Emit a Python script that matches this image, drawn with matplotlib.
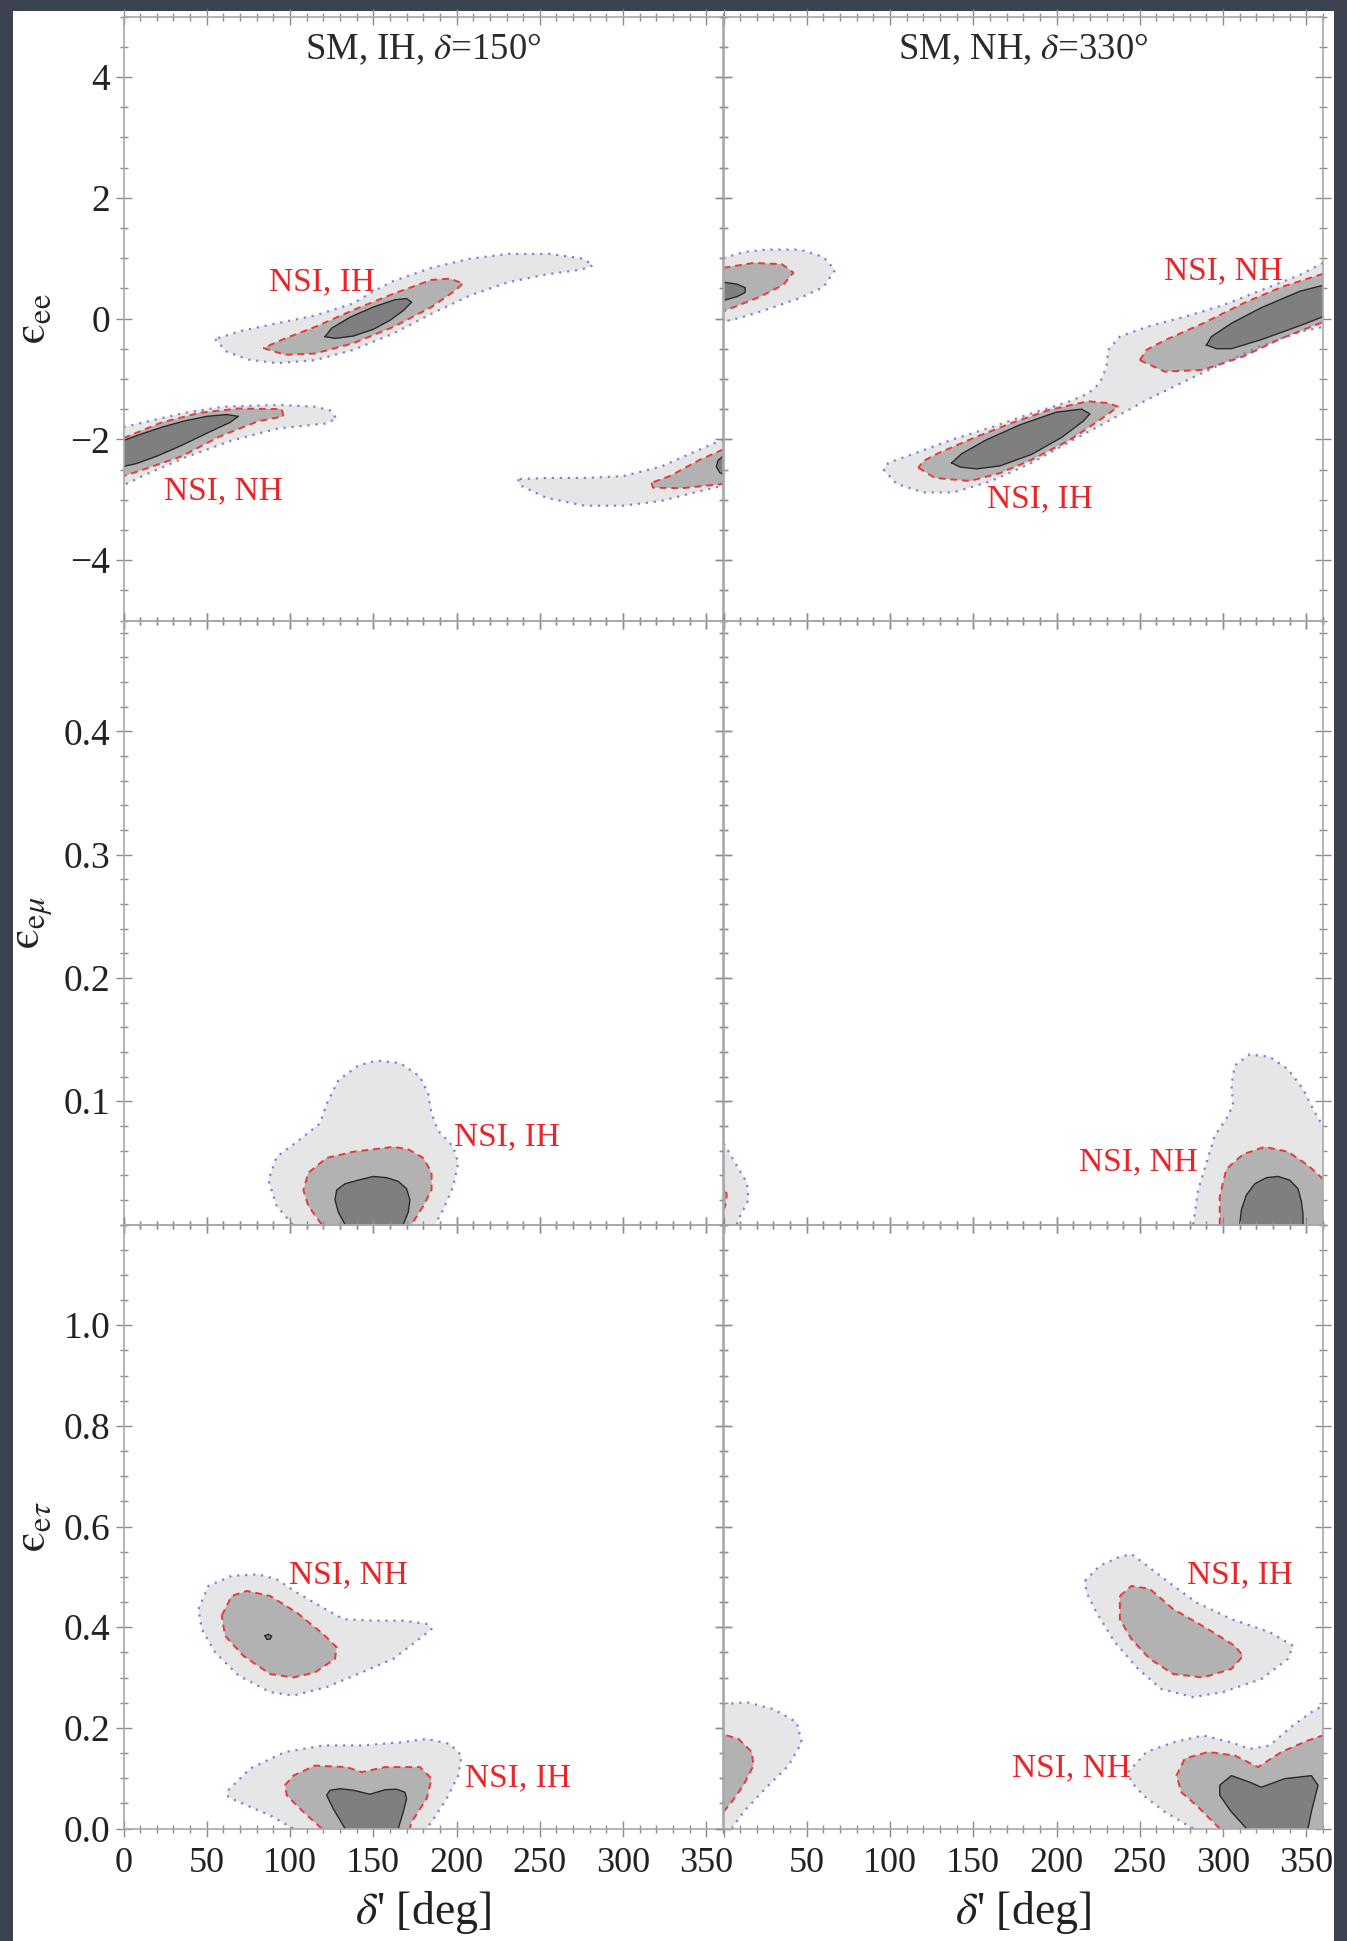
import numpy as np
import matplotlib
matplotlib.use('Agg')
import matplotlib.pyplot as plt
from matplotlib.patches import Rectangle
from matplotlib.ticker import MultipleLocator

plt.rcParams['font.family'] = ['Liberation Serif', 'DejaVu Serif']
plt.rcParams['mathtext.fontset'] = 'stix'

# ---- axes / ticks ----
delta_ticks = [0, 50, 100, 150, 200, 250, 300, 350]
delta_labels_left = ['0', '50', '100', '150', '200', '250', '300', '350']
delta_labels_right = ['', '50', '100', '150', '200', '250', '300', '350']
ee_ticks = [-4, -2, 0, 2, 4]
ee_labels = ['\u22124', '\u22122', '0', '2', '4']
em_ticks = [0.1, 0.2, 0.3, 0.4]
em_labels = ['0.1', '0.2', '0.3', '0.4']
et_ticks = [0.0, 0.2, 0.4, 0.6, 0.8, 1.0]
et_labels = ['0.0', '0.2', '0.4', '0.6', '0.8', '1.0']
ylims = [(-5, 5), (0, 0.49), (0, 1.2)]
yminor = [0.5, 0.02, 0.05]
titles = ['SM, IH, $\\delta$=150\u00b0', 'SM, NH, $\\delta$=330\u00b0']
ylabels = ['$\\mathrm{\u03f5}_{\\mathrm{ee}}$', '$\\mathrm{\u03f5}_{\\mathrm{e}\\mu}$',
           '$\\mathrm{\u03f5}_{\\mathrm{e}\\tau}$']

# ---- contour regions (delta', eps) ----
# top-left: eps_ee, SM IH delta=150
TL_A_OUT = [(55,-0.34),(62,-0.55),(75,-0.68),(92,-0.74),(115,-0.69),(138,-0.52),(162,-0.25),(185,0.08),
            (208,0.38),(231,0.60),(254,0.73),(275,0.81),(282,0.88),(276,0.99),(256,1.07),(231,1.07),
            (208,0.99),(185,0.84),(162,0.62),(150,0.45),(138,0.25),(115,0.05),(92,-0.08),(70,-0.21)]
TL_A_MID = [(84,-0.49),(97,-0.60),(115,-0.58),(138,-0.41),(162,-0.14),(185,0.19),(198,0.44),(204,0.58),
            (196,0.66),(185,0.64),(162,0.41),(138,0.14),(115,-0.14),(97,-0.33)]
TL_A_IN = [(121,-0.30),(127,-0.33),(138,-0.29),(150,-0.18),(160,-0.03),(168,0.13),(173,0.27),(170,0.33),
           (163,0.31),(150,0.19),(136,0.02),(125,-0.16)]
TL_B_OUT = [(0,-1.80),(12,-1.72),(37,-1.56),(60,-1.46),(93,-1.43),(115,-1.46),(124,-1.52),(128,-1.66),
            (121,-1.74),(93,-1.82),(65,-2.02),(37,-2.30),(12,-2.60),(0,-2.76)]
TL_B_MID = [(0,-1.98),(23,-1.72),(46,-1.56),(69,-1.49),(95,-1.50),(96,-1.62),(81,-1.70),(58,-1.95),
            (35,-2.28),(12,-2.50),(0,-2.61)]
TL_B_IN = [(0,-2.02),(12,-1.90),(23,-1.80),(36,-1.70),(50,-1.62),(62,-1.59),(69,-1.62),(64,-1.72),
           (50,-1.90),(35,-2.10),(20,-2.28),(8,-2.40),(0,-2.45)]
TL_C_OUT = [(237,-2.66),(238,-2.76),(254,-2.97),(277,-3.10),(300,-3.10),(323,-3.02),(346,-2.86),(360,-2.77),
            (360,-2.0),(346,-2.17),(323,-2.45),(300,-2.61),(277,-2.64),(254,-2.64)]
TL_C_MID = [(317,-2.72),(318,-2.80),(335,-2.81),(360,-2.74),(360,-2.17),(346,-2.34),(328,-2.61)]
TL_C_IN = [(360,-2.28),(357,-2.35),(356,-2.45),(358,-2.55),(360,-2.58)]

# top-right: eps_ee, SM NH delta=330
TR_A_OUT = [(0,1.00),(12,1.10),(25,1.14),(46,1.14),(60,1.02),(67,0.80),(60,0.52),(46,0.34),(25,0.14),(10,0.01),(0,-0.05)]
TR_A_MID = [(0,0.84),(18,0.92),(35,0.90),(42,0.76),(36,0.56),(22,0.36),(0,0.12)]
TR_A_IN = [(0,0.60),(8,0.57),(13,0.51),(13,0.43),(8,0.36),(0,0.30)]
TR_B_OUT = [(96,-2.50),(104,-2.74),(120,-2.88),(138,-2.88),(160,-2.70),(185,-2.39),(208,-2.04),(231,-1.70),
            (254,-1.35),(277,-1.04),(300,-0.74),(323,-0.45),(346,-0.22),(360,-0.14),(360,0.92),(346,0.72),
            (323,0.47),(300,0.22),(277,0.03),(254,-0.14),(238,-0.30),(231,-0.52),(230,-0.80),(226,-1.07),
            (219,-1.24),(208,-1.37),(185,-1.57),(162,-1.79),(138,-2.0),(115,-2.23),(99,-2.39)]
TR_B_MID_LOW = [(117,-2.47),(127,-2.64),(148,-2.69),(166,-2.56),(185,-2.34),(208,-2.01),(226,-1.68),(237,-1.46),
                (231,-1.40),(219,-1.37),(196,-1.51),(173,-1.73),(150,-1.98),(129,-2.23),(120,-2.36)]
TR_B_IN_LOW = [(137,-2.39),(142,-2.46),(152,-2.49),(166,-2.44),(185,-2.25),(203,-1.97),(216,-1.70),(220,-1.58),
               (215,-1.50),(200,-1.55),(178,-1.76),(157,-2.02),(143,-2.24)]
TR_B_MID_UP = [(250,-0.69),(265,-0.88),(288,-0.85),(312,-0.63),(335,-0.33),(360,-0.06),(360,0.74),(335,0.52),
               (312,0.25),(288,-0.08),(265,-0.36),(254,-0.52)]
TR_B_IN_UP = [(290,-0.44),(296,-0.50),(305,-0.50),(323,-0.35),(346,-0.12),(360,0.03),(360,0.55),(346,0.45),
              (323,0.18),(305,-0.08),(293,-0.30)]

# middle-left: eps_emu, SM IH
ML_OUT = [(101.5,0),(92,0.015),(87,0.036),(92,0.055),(106,0.069),(118,0.082),(122,0.098),(129,0.117),(141,0.129),
          (152,0.133),(166,0.131),(178,0.120),(183,0.106),(185,0.090),(189,0.076),(198,0.063),(201,0.050),
          (198,0.031),(192,0.012),(187,0)]
ML_MID = [(119,0),(111,0.015),(108,0.028),(111,0.042),(122,0.054),(138,0.059),(162,0.063),(171,0.061),(180,0.054),
          (185,0.042),(185,0.028),(180,0.015),(173,0)]
ML_IN = [(133,0),(129,0.010),(127,0.020),(128,0.028),(133,0.033),(141,0.036),(150,0.039),(158,0.038),(165,0.035),
         (170,0.029),(172,0.020),(171,0.010),(168,0)]

# middle-right: eps_emu, SM NH
MR_A_OUT = [(8,0),(10,0.007),(15,0.020),(14,0.034),(7,0.050),(0,0.066),(0,0)]
MR_A_MID = [(0,0.012),(1,0.015),(2,0.024),(0,0.033)]
MR_B_OUT = [(282,0),(285,0.028),(290,0.050),(295,0.072),(302,0.086),(306,0.097),(305,0.113),(307,0.129),(316,0.138),
            (328,0.136),(339,0.126),(348,0.110),(355,0.091),(360,0.080),(360,0)]
MR_B_MID = [(298,0),(298,0.023),(302,0.045),(312,0.057),(325,0.063),(339,0.059),(351,0.048),(360,0.037),(360,0)]
MR_B_IN = [(310,0),(311,0.012),(314,0.024),(319,0.033),(326,0.038),(333,0.039),(340,0.036),(345,0.029),(347,0.019),
           (348,0.008),(348,0)]

# bottom-left: eps_etau, SM IH
BL_A_OUT = [(45,0.436),(51,0.482),(65,0.502),(81,0.505),(92,0.495),(104,0.469),(118,0.442),(132,0.416),(150,0.413),
            (168,0.413),(183,0.406),(185,0.396),(175,0.370),(162,0.337),(143,0.310),(122,0.281),(102,0.264),
            (88,0.271),(69,0.304),(55,0.350),(47,0.396)]
BL_A_MID = [(59,0.423),(65,0.462),(74,0.472),(88,0.462),(104,0.429),(120,0.386),(128,0.360),(127,0.337),(115,0.310),
            (102,0.300),(88,0.307),(72,0.343),(61,0.383)]
BL_A_IN = [(85,0.383),(87,0.386),(89,0.382),(88,0.376),(86,0.376)]
BL_B_OUT = [(102,0),(88,0.026),(74,0.046),(63,0.062),(62,0.073),(76,0.119),(97,0.152),(120,0.165),(143,0.165),
            (166,0.171),(182,0.178),(196,0.168),(203,0.145),(201,0.105),(194,0.059),(185,0.013),(182,0)]
BL_B_MID = [(119,0),(108,0.033),(98,0.066),(97,0.086),(102,0.105),(115,0.125),(134,0.122),(143,0.112),(157,0.122),
            (178,0.122),(185,0.099),(182,0.059),(173,0.013),(172,0)]
BL_B_IN = [(133,0),(126,0.039),(122,0.066),(124,0.076),(130,0.079),(138,0.076),(148,0.068),(157,0.077),(164,0.078),
           (169,0.072),(170,0.059),(168,0.033),(165,0)]

# bottom-right: eps_etau, SM NH
BR_A_OUT = [(217,0.492),(226,0.522),(238,0.540),(245,0.545),(252,0.528),(265,0.495),(284,0.449),(305,0.416),
            (328,0.390),(342,0.363),(339,0.337),(323,0.297),(300,0.271),(282,0.261),(263,0.277),(249,0.317),
            (235,0.370),(224,0.429),(218,0.469)]
BR_A_MID = [(238,0.462),(245,0.482),(256,0.476),(270,0.436),(291,0.396),(307,0.363),(312,0.343),(305,0.317),
            (288,0.300),(270,0.307),(256,0.337),(245,0.376),(238,0.416)]
BR_B_OUT = [(5,0),(12,0.033),(25,0.079),(39,0.125),(47,0.171),(44,0.211),(30,0.237),(14,0.251),(0,0.247),(0,0)]
BR_B_MID = [(0,0.033),(5,0.053),(12,0.086),(18,0.125),(17,0.152),(9,0.178),(0,0.187)]
BR_C_OUT = [(282,0),(265,0.033),(252,0.066),(245,0.092),(243,0.112),(254,0.152),(270,0.171),(288,0.185),(305,0.171),
            (316,0.158),(328,0.165),(342,0.205),(353,0.231),(360,0.244),(360,0)]
BR_C_MID = [(298,0),(284,0.046),(275,0.072),(272,0.105),(277,0.139),(291,0.152),(307,0.145),(321,0.122),(335,0.152),
            (351,0.175),(360,0.185),(360,0)]
BR_C_IN = [(314,0),(305,0.033),(298,0.066),(298,0.086),(305,0.105),(316,0.092),(323,0.082),(337,0.099),(353,0.105),
           (357,0.086),(353,0.033),(351,0)]

# labels (text, delta', eps)
TL_TXT = [('NSI, IH', 119, 0.60), ('NSI, NH', 60, -2.86)]
TR_TXT = [('NSI, NH', 300, 0.79), ('NSI, IH', 190, -2.99)]
ML_TXT = [('NSI, IH', 230, 0.071)]
MR_TXT = [('NSI, NH', 249, 0.051)]
BL_TXT = [('NSI, NH', 135, 0.504), ('NSI, IH', 237, 0.101)]
BR_TXT = [('NSI, IH', 310, 0.504), ('NSI, NH', 209, 0.120)]

# level -> (fill, edge colour, linestyle, lw)
LEVELS = {
    'out': ('#e6e6e6', '#7f80d8', (0, (1, 2.6)), 1.6),
    'mid': ('#b2b2b2', '#e83a3a', (0, (3.5, 2.5)), 1.4),
    'in': ('#7f7f7f', '#2a2a2a', '-', 1.0),
}

panels = {
    (0, 0): ([TL_A_OUT, TL_B_OUT, TL_C_OUT], [TL_A_MID, TL_B_MID, TL_C_MID], [TL_A_IN, TL_B_IN, TL_C_IN], TL_TXT),
    (0, 1): ([TR_A_OUT, TR_B_OUT], [TR_A_MID, TR_B_MID_LOW, TR_B_MID_UP], [TR_A_IN, TR_B_IN_LOW, TR_B_IN_UP], TR_TXT),
    (1, 0): ([ML_OUT], [ML_MID], [ML_IN], ML_TXT),
    (1, 1): ([MR_A_OUT, MR_B_OUT], [MR_A_MID, MR_B_MID], [MR_B_IN], MR_TXT),
    (2, 0): ([BL_A_OUT, BL_B_OUT], [BL_A_MID, BL_B_MID], [BL_A_IN, BL_B_IN], BL_TXT),
    (2, 1): ([BR_A_OUT, BR_B_OUT, BR_C_OUT], [BR_A_MID, BR_B_MID, BR_C_MID], [BR_C_IN], BR_TXT),
}


def draw_region(ax, pts, level, xlim, ylim):
    fc, ec, ls, lw = LEVELS[level]
    xs = [p[0] for p in pts]
    ys = [p[1] for p in pts]
    ax.fill(xs, ys, color=fc, lw=0, zorder=2)
    # outline, skipping the pieces that lie on the frame
    closed = pts + [pts[0]]
    lx, ly = [], []
    for (x0, y0), (x1, y1) in zip(closed[:-1], closed[1:]):
        if (x0 == x1 and x0 in xlim) or (y0 == y1 and y0 in ylim):
            continue
        if not lx or (lx[-1], ly[-1]) != (x0, y0):
            lx += [np.nan, x0]
            ly += [np.nan, y0]
        lx.append(x1)
        ly.append(y1)
    ax.plot(lx, ly, color=ec, ls=ls, lw=lw, zorder=3, solid_joinstyle='round')


W, H = 1347, 1941
fig = plt.figure(figsize=(W / 100, H / 100), dpi=100)
fig.patch.set_facecolor('#3d4250')
fig.add_artist(Rectangle((13 / W, 0), (1334 - 13) / W, (H - 11) / H, transform=fig.transFigure,
                         facecolor='white', edgecolor='none', zorder=0))

x_left = [123.5, 723.5]
pw = 599.5
row_top = [16.5, 620.5, 1224.5]
ph = 604

ytick_sets = [(ee_ticks, ee_labels), (em_ticks, em_labels), (et_ticks, et_labels)]

for (r, c), (outs, mids, ins, txts) in panels.items():
    ax = fig.add_axes([x_left[c] / W, (H - row_top[r] - ph) / H, pw / W, ph / H])
    ax.set_facecolor('none')
    xlim = (0, 360)
    ylim = ylims[r]
    for pts in outs:
        draw_region(ax, pts, 'out', xlim, ylim)
    for pts in mids:
        draw_region(ax, pts, 'mid', xlim, ylim)
    for pts in ins:
        draw_region(ax, pts, 'in', xlim, ylim)
    for t, x, y in txts:
        ax.text(x, y, t, color='#e8262a', fontsize=24, ha='center', va='center', zorder=5)
    ax.set_xlim(*xlim)
    ax.set_ylim(*ylim)

    ax.xaxis.set_minor_locator(MultipleLocator(10))
    ax.yaxis.set_minor_locator(MultipleLocator(yminor[r]))
    yt, yl = ytick_sets[r]
    ax.set_yticks(yt)
    ax.set_xticks(delta_ticks)
    if c == 0:
        ax.set_yticklabels(yl)
        ax.set_ylabel(ylabels[r], fontsize=33, color='#222222')
        ax.yaxis.set_label_coords(-0.115, 0.5)
    else:
        ax.set_yticklabels([])
    if r == 2:
        ax.set_xticklabels(delta_labels_left if c == 0 else delta_labels_right)
        ax.set_xlabel("$\\delta$' [deg]", fontsize=33, color='#222222')
        ax.xaxis.set_label_coords(0.5, -0.1)
    else:
        ax.set_xticklabels([])
    if r == 0:
        ax.text(0.5, 0.946, titles[c], transform=ax.transAxes, ha='center', va='center',
                fontsize=26.5, color='#2a2a2a', zorder=6)

    ax.tick_params(which='both', direction='inout', top=True, right=True, color='#8c8c8c',
                   width=1.0, labelcolor='#222222')
    ax.tick_params(axis='x', labelsize=26, pad=8)
    ax.tick_params(axis='y', labelsize=27, pad=4)
    ax.tick_params(which='major', length=11)
    ax.tick_params(which='minor', length=6)
    for s in ax.spines.values():
        s.set_color('#a8a8a8')
        s.set_linewidth(1.2)
        s.set_zorder(4)

fig.savefig('out.png', dpi=100, facecolor=fig.get_facecolor())
